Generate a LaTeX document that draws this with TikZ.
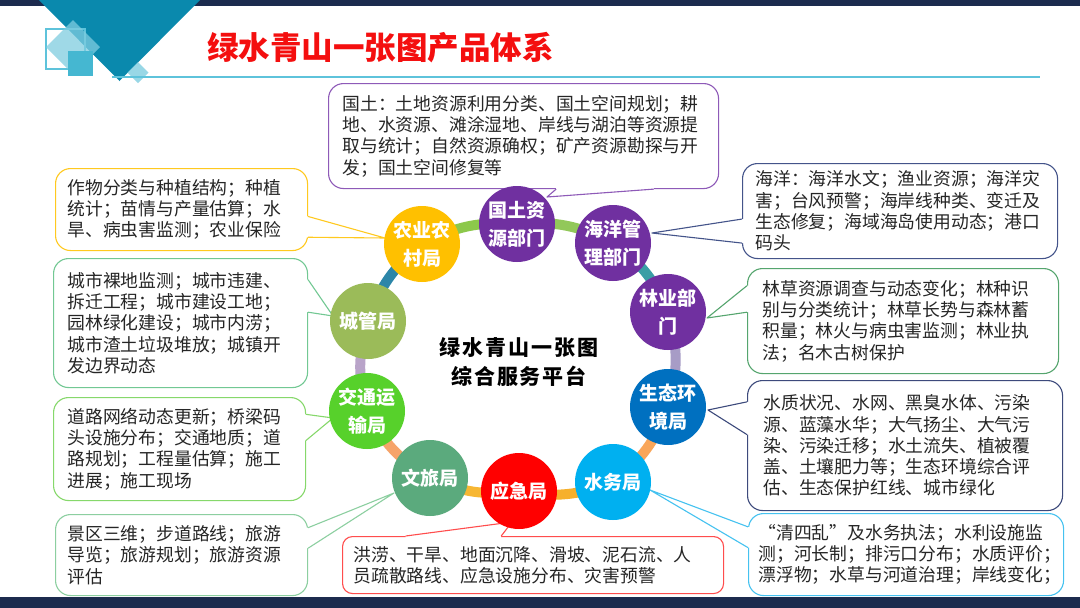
\documentclass[tikz,border=0pt]{standalone}
\usepackage{fontspec}
\newfontfamily\cjk{Noto Sans CJK SC}
\usetikzlibrary{calc}
\definecolor{navy}{HTML}{1C2B4E}
\definecolor{decoblue}{HTML}{0A89AD}
\definecolor{decolight}{HTML}{7FCDE0}
\definecolor{decomid}{HTML}{45B7D1}
\definecolor{decoline}{HTML}{5EC3DB}
\definecolor{titlered}{HTML}{F40F0F}
\definecolor{txt}{HTML}{262626}
\definecolor{cpurple}{HTML}{7030A0}
\definecolor{cblue}{HTML}{0070C0}
\definecolor{clblue}{HTML}{00B0F0}
\definecolor{cred}{HTML}{FF0000}
\definecolor{cwl}{HTML}{5BAA7D}
\definecolor{cjt}{HTML}{57D12B}
\definecolor{ccg}{HTML}{9BBB59}
\definecolor{cny}{HTML}{FFC000}
\definecolor{bA}{HTML}{8E5AB8}
\definecolor{bB}{HTML}{44548A}
\definecolor{bC}{HTML}{FFC91F}
\definecolor{bD}{HTML}{72C893}
\definecolor{bE}{HTML}{55A56E}
\definecolor{bF}{HTML}{3D4A7C}
\definecolor{bG}{HTML}{86D86B}
\definecolor{bH}{HTML}{8CCFA0}
\definecolor{bI}{HTML}{FF4D4D}
\definecolor{bJ}{HTML}{45C2F0}
\definecolor{r1}{HTML}{92C85A}
\definecolor{r2}{HTML}{3A9EA5}
\definecolor{r3}{HTML}{A79CC6}
\definecolor{r4}{HTML}{F9A65A}
\definecolor{r5}{HTML}{F6B02C}
\definecolor{r6}{HTML}{F7B733}
\definecolor{r7}{HTML}{F6A46A}
\definecolor{r8}{HTML}{B9A4C9}
\definecolor{r9}{HTML}{2C86A8}
\definecolor{r10}{HTML}{8CC84B}
\newcommand\calltail[5]{%
  \fill[white] (#2) -- (#4) -- (#3) -- ($(#3)+#5$) -- ($(#2)+#5$) -- cycle;
  \draw[tail=#1] (#2) -- (#4) -- (#3);}
\begin{document}
\begin{tikzpicture}[x=1pt,y=-1pt,
  box/.style={draw=#1, fill=white, line width=1.1pt, rounded corners=15pt,
    anchor=north west, align=left, inner ysep=0pt,
    font=\cjk\fontsize{17.8}{21.3}\selectfont, text=txt},
  tail/.style={draw=#1, line width=1.1pt, line join=round},
  org/.style={circle, fill=#1, minimum size=76pt, inner sep=0pt, text=white,
    align=center, font=\cjk\bfseries\fontsize{19}{28}\selectfont},
  ring/.style={draw=#1, line width=10pt},
]
\useasboundingbox (0,0) rectangle (1080,608);
\fill[white] (0,0) rectangle (1080,608);
% frame bands
\fill[navy] (0,0) rectangle (1080,6);
\fill[navy] (0,597) rectangle (1080,608);
% decoration
\fill[decoblue] (39,0) -- (200,0) -- (119.5,81) -- cycle;
\draw[decoline, line width=1.3pt] (46,29) rectangle (85,69);
\fill[decolight, opacity=0.75] (73,20) -- (100,47) -- (73,74) -- (46,47) -- cycle;
\fill[decomid] (68,51) rectangle (93,76);
\fill[decolight, opacity=0.8] (138,62) -- (148.5,72.5) -- (138,83) -- (127.5,72.5) -- cycle;
% title
\node[anchor=west, inner sep=0pt, text=titlered,
  font=\cjk\bfseries\fontsize{31.5}{36}\selectfont] (title) at (207,48) {绿水青山一张图产品体系};
\draw[decoline, line width=1.2pt] (112,77) -- (1040,77);

% text boxes
\node[box=bA, minimum width=390pt, minimum height=105pt, inner xsep=14pt, text width=362pt] (boxA) at (328,83)
 {国土：土地资源利用分类、国土空间规划；耕\\地、水资源、滩涂湿地、岸线与湖泊等资源提\\取与统计；自然资源确权；矿产资源勘探与开\\发；国土空间修复等};
\node[box=bB, minimum width=315pt, minimum height=95pt, inner xsep=13pt, text width=289pt] (boxB) at (742,163)
 {海洋：海洋水文；渔业资源；海洋灾\\害；台风预警；海岸线种类、变迁及\\生态修复；海域海岛使用动态；港口\\码头};
\node[box=bC, minimum width=252pt, minimum height=82pt, inner xsep=12pt, text width=228pt] (boxC) at (55,168)
 {作物分类与种植结构；种植\\统计；苗情与产量估算；水\\旱、病虫害监测；农业保险};
\node[box=bD, minimum width=254pt, minimum height=129pt, inner xsep=14pt, text width=226pt] (boxD) at (53,258)
 {城市裸地监测；城市违建、\\拆迁工程；城市建设工地；\\园林绿化建设；城市内涝；\\城市渣土垃圾堆放；城镇开\\发边界动态};
\node[box=bE, minimum width=311pt, minimum height=105pt, inner xsep=15pt, text width=281pt] (boxE) at (747,268)
 {林草资源调查与动态变化；林种识\\别与分类统计；林草长势与森林蓄\\积量；林火与病虫害监测；林业执\\法；名木古树保护};
\node[box=bF, minimum width=315pt, minimum height=130pt, inner xsep=16pt, text width=283pt] (boxF) at (747,380)
 {水质状况、水网、黑臭水体、污染\\源、蓝藻水华；大气扬尘、大气污\\染、污染迁移；水土流失、植被覆\\盖、土壤肥力等；生态环境综合评\\估、生态保护红线、城市绿化};
\node[box=bG, minimum width=252pt, minimum height=103pt, inner xsep=14pt, text width=224pt] (boxG) at (53,397)
 {道路网络动态更新；桥梁码\\头设施分布；交通地质；道\\路规划；工程量估算；施工\\进展；施工现场};
\node[box=bH, minimum width=252pt, minimum height=81pt, inner xsep=12pt, text width=228pt] (boxH) at (55,514)
 {景区三维；步道路线；旅游\\导览；旅游规划；旅游资源\\评估};
\node[box=bI, rounded corners=10pt, minimum width=381pt, minimum height=57pt, inner xsep=11pt, text width=359pt] (boxI) at (342,536)
 {洪涝、干旱、地面沉降、滑坡、泥石流、人\\员疏散路线、应急设施分布、灾害预警};
\node[box=bJ, minimum width=315pt, minimum height=82pt, inner xsep=10pt, text width=295pt] (boxJ) at (748,513)
 {“清四乱”及水务执法；水利设施监\\测；河长制；排污口分布；水质评价；\\漂浮物；水草与河道治理；岸线变化；};

% tails
\coordinate (a1) at ($(boxA.south west)!7/12!(boxA.south east)$);
\coordinate (a2) at ($(boxA.south west)!10/12!(boxA.south east)$);
\coordinate (ta) at (547,197);
\calltail{bA}{a1}{a2}{ta}{(0,-3)}
\coordinate (b1) at ($(boxB.north west)!7/12!(boxB.south west)$);
\coordinate (b2) at ($(boxB.north west)!10/12!(boxB.south west)$);
\coordinate (tb) at (652,233);
\calltail{bB}{b1}{b2}{tb}{(3,0)}
\coordinate (c1) at ($(boxC.north east)!7/12!(boxC.south east)$);
\coordinate (c2) at ($(boxC.north east)!10/12!(boxC.south east)$);
\coordinate (tc) at (385,238);
\calltail{bC}{c1}{c2}{tc}{(-3,0)}
\coordinate (d1) at ($(boxD.north east)!2/12!(boxD.south east)$);
\coordinate (d2) at ($(boxD.north east)!5/12!(boxD.south east)$);
\coordinate (td) at (333,316);
\calltail{bD}{d1}{d2}{td}{(-3,0)}
\coordinate (e1) at ($(boxE.north west)!2/12!(boxE.south west)$);
\coordinate (e2) at ($(boxE.north west)!5/12!(boxE.south west)$);
\coordinate (te) at (707,318);
\calltail{bE}{e1}{e2}{te}{(3,0)}
\coordinate (f1) at ($(boxF.north west)!2/12!(boxF.south west)$);
\coordinate (f2) at ($(boxF.north west)!5/12!(boxF.south west)$);
\coordinate (tf) at (708,410);
\calltail{bF}{f1}{f2}{tf}{(3,0)}
\coordinate (g1) at ($(boxG.north east)!2/12!(boxG.south east)$);
\coordinate (g2) at ($(boxG.north east)!5/12!(boxG.south east)$);
\coordinate (tg) at (333,418);
\calltail{bG}{g1}{g2}{tg}{(-3,0)}
\coordinate (h1) at ($(boxH.north east)!2/12!(boxH.south east)$);
\coordinate (h2) at ($(boxH.north east)!5/12!(boxH.south east)$);
\coordinate (th) at (394,493);
\calltail{bH}{h1}{h2}{th}{(-3,0)}
\coordinate (i1) at ($(boxI.north west)!2/12!(boxI.north east)$);
\coordinate (i2) at ($(boxI.north west)!5/12!(boxI.north east)$);
\coordinate (ti) at (512,522);
\calltail{bI}{i1}{i2}{ti}{(0,3)}
\coordinate (j1) at ($(boxJ.north west)!2/12!(boxJ.south west)$);
\coordinate (j2) at ($(boxJ.north west)!5/12!(boxJ.south west)$);
\coordinate (tj) at (650,490);
\calltail{bJ}{j1}{j2}{tj}{(3,0)}

% ring centres
\coordinate (pgt) at (517,224);
\coordinate (phy) at (613,243);
\coordinate (ply) at (668,312);
\coordinate (pst) at (668,407);
\coordinate (psw) at (613,482);
\coordinate (pyj) at (519,491);
\coordinate (pwl) at (430,478);
\coordinate (pjt) at (367,411);
\coordinate (pcg) at (368,321);
\coordinate (pny) at (422,244);
% ring band
\draw[ring=r1] (pgt) to[bend left=16] (phy);
\draw[ring=r2] (phy) to[bend left=16] (ply);
\draw[ring=r3] (ply) to[bend left=16] (pst);
\draw[ring=r4] (pst) to[bend left=16] (psw);
\draw[ring=r5] (psw) to[bend left=16] (pyj);
\draw[ring=r6] (pyj) to[bend left=16] (pwl);
\draw[ring=r7] (pwl) to[bend left=16] (pjt);
\draw[ring=r8] (pjt) to[bend left=16] (pcg);
\draw[ring=r9] (pcg) to[bend left=16] (pny);
\draw[ring=r10] (pny) to[bend left=16] (pgt);
% circles
\node[org=cpurple] (gt) at (pgt) {国土资\\源部门};
\node[org=cpurple] (hy) at (phy) {海洋管\\理部门};
\node[org=cpurple] (ly) at (ply) {林业部\\门};
\node[org=cblue] (st) at (pst) {生态环\\境局};
\node[org=clblue] (sw) at (psw) {水务局};
\node[org=cred] (yj) at (pyj) {应急局};
\node[org=cwl] (wl) at (pwl) {文旅局};
\node[org=cjt] (jt) at (pjt) {交通运\\输局};
\node[org=ccg] (cg) at (pcg) {城管局};
\node[org=cny] (ny) at (pny) {农业农\\村局};
% hub text
\node[align=center, text=black,
  font=\cjk\bfseries\fontsize{21}{29}\selectfont\addfontfeature{LetterSpace=9}] (hub) at (519,362)
  {绿水青山一张图\\综合服务平台};
\end{tikzpicture}
\end{document}
